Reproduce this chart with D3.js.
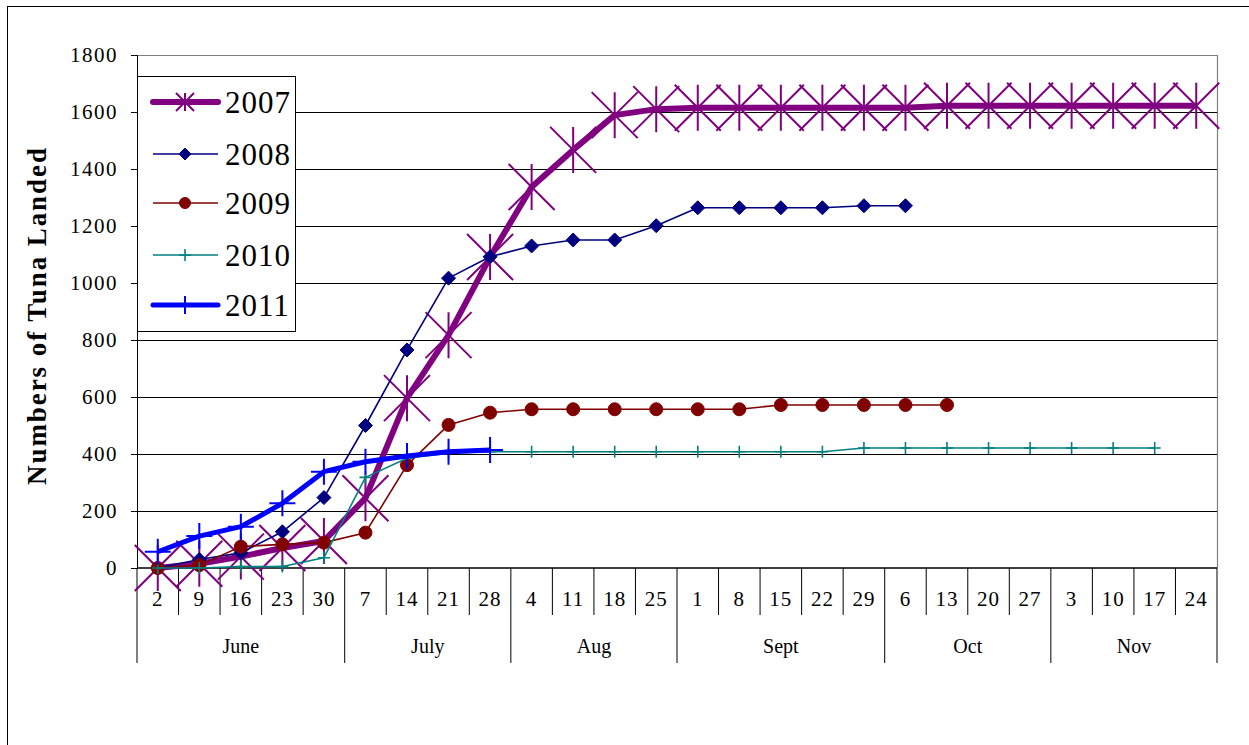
<!DOCTYPE html>
<html>
<head>
<meta charset="utf-8">
<script src="https://cdn.jsdelivr.net/npm/d3@7"></script>
<style>
  body { margin: 0; background: #fff; }
  svg text { font-family: "Liberation Serif", "Times New Roman", serif; fill: #000; }
</style>
</head>
<body>
<svg id="chart" width="1249" height="745"></svg>
<script>
// month groups and their week-day labels
const months = ["June", "July", "Aug", "Sept", "Oct", "Nov"];
const monthDays = [
    [2, 9, 16, 23, 30],
    [7, 14, 21, 28],
    [4, 11, 18, 25],
    [1, 8, 15, 22, 29],
    [6, 13, 20, 27],
    [3, 10, 17, 24]
];
const yTicks = [0, 200, 400, 600, 800, 1000, 1200, 1400, 1600, 1800];

// cumulative tuna landed, one value per week (null = no data)
const s2007 = [0, 15, 40, 70, 95, 245, 596, 817, 1091, 1337, 1467, 1589, 1610, 1615, 1615, 1615, 1615, 1615, 1615, 1622, 1622, 1622, 1622, 1622, 1622, 1622];
const s2008 = [0, 30, 53, 127, 247, 500, 765, 1017, 1092, 1130, 1151, 1151, 1201, 1264, 1264, 1264, 1264, 1271, 1271, null, null, null, null, null, null, null];
const s2009 = [0, 10, 75, 83, 89, 124, 361, 502, 545, 557, 557, 557, 557, 557, 557, 572, 572, 572, 572, 572, null, null, null, null, null, null];
const s2010 = [0, 0, 5, 5, 36, 318, 385, 403, 408, 408, 408, 408, 408, 408, 408, 408, 408, 421, 421, 421, 421, 421, 421, 421, 421, null];
const s2011 = [57, 112, 145, 227, 338, 373, 393, 408, 414, null, null, null, null, null, null, null, null, null, null, null, null, null, null, null, null, null];

const seriesNames = ["2007", "2008", "2009", "2010", "2011"];
const seriesValues = [s2007, s2008, s2009, s2010, s2011];

const styles = {
    "2007": { color: "#800080", width: 6, marker: "star", size: 23, lsize: 9, mw: 2 },
    "2008": { color: "#000080", width: 1.6, marker: "diamond", size: 7, lsize: 6, mw: 1 },
    "2009": { color: "#800000", width: 1.6, marker: "circle", size: 6.5, lsize: 5.5, mw: 1 },
    "2010": { color: "#008080", width: 1.6, marker: "plus", size: 6, lsize: 6, mw: 1.6 },
    "2011": { color: "#0000FF", width: 5, marker: "plus", size: 13, lsize: 9, mw: 2 }
};

const days = monthDays.flat();
const svg = d3.select("#chart");

const plotLeft = 137, plotRight = 1217, plotTop = 55, plotBottom = 568;

const x = d3.scaleBand().domain(d3.range(days.length)).range([plotLeft, plotRight]).padding(0);
const cx = i => x(i) + x.bandwidth() / 2;
const y = d3.scaleLinear().domain([0, 1800]).range([plotBottom, plotTop]);

// outer frame
svg.append("rect").attr("x", 7.5).attr("y", 6.5).attr("width", 1260).attr("height", 760)
    .attr("fill", "none").attr("stroke", "#000").attr("stroke-width", 1);

// plot area border (top/right)
svg.append("path")
    .attr("d", `M${plotLeft},${plotTop + 0.5} H${plotRight + 0.5} V${plotBottom}`)
    .attr("fill", "none").attr("stroke", "#808080").attr("stroke-width", 1.2);

// gridlines
svg.append("g")
    .attr("transform", `translate(${plotLeft},0)`)
    .call(d3.axisLeft(y).tickValues(yTicks.slice(1, -1)).tickSize(-(plotRight - plotLeft)).tickFormat(""))
    .call(g => g.select(".domain").remove())
    .selectAll("line").attr("stroke", "#000").attr("stroke-width", 1);

// y axis
svg.append("g")
    .attr("transform", `translate(${plotLeft},0)`)
    .call(d3.axisLeft(y).tickValues(yTicks).tickSize(6).tickPadding(13).tickFormat(d3.format("d")))
    .call(g => g.select(".domain").attr("stroke", "#000"))
    .call(g => g.selectAll("line").attr("stroke", "#000"))
    .selectAll("text")
    .style("font-size", "21px").style("letter-spacing", "1.5px");

// y axis title
svg.append("text")
    .attr("transform", `translate(46,${(plotTop + plotBottom) / 2 + 5}) rotate(-90)`)
    .attr("text-anchor", "middle")
    .attr("textLength", 337).attr("lengthAdjust", "spacing")
    .style("font-size", "27px").style("font-weight", "bold")
    .text("Numbers of Tuna Landed");

// x axis line
svg.append("line").attr("x1", plotLeft).attr("x2", plotRight).attr("y1", plotBottom).attr("y2", plotBottom)
    .attr("stroke", "#000").attr("stroke-width", 1.5);

// day separators and labels
const xAxis = svg.append("g");
let idx = 0;
monthDays.forEach((md, mi) => {
    const start = idx;
    md.forEach((d, k) => {
        const i = idx;
        if (k > 0) {
            xAxis.append("line").attr("x1", x(i)).attr("x2", x(i)).attr("y1", plotBottom).attr("y2", 615)
                .attr("stroke", "#000").attr("stroke-width", 1);
        }
        xAxis.append("text").attr("x", cx(i)).attr("y", 606).attr("text-anchor", "middle")
            .style("font-size", "21px").style("letter-spacing", "1px").text(d);
        idx++;
    });
    // month boundary
    xAxis.append("line").attr("x1", x(start)).attr("x2", x(start)).attr("y1", plotBottom).attr("y2", 663)
        .attr("stroke", "#000").attr("stroke-width", 1);
    const mid = (x(start) + x(idx - 1) + x.bandwidth()) / 2;
    xAxis.append("text").attr("x", mid).attr("y", 653).attr("text-anchor", "middle")
        .style("font-size", "20px").text(months[mi]);
});
xAxis.append("line").attr("x1", plotRight).attr("x2", plotRight).attr("y1", plotBottom).attr("y2", 663)
    .attr("stroke", "#000").attr("stroke-width", 1);

function markerPath(type, r) {
    if (type === "star") return `M${-r},${-r}L${r},${r}M${-r},${r}L${r},${-r}M0,${-r}L0,${r}`;
    if (type === "plus") return `M${-r},0L${r},0M0,${-r}L0,${r}`;
    if (type === "diamond") return `M0,${-r}L${r},0L0,${r}L${-r},0Z`;
    return d3.symbol(d3.symbolCircle, Math.PI * r * r)();
}

const line = d3.line()
    .defined(d => d != null)
    .x((d, i) => cx(i))
    .y(d => y(d));

seriesNames.forEach((name, si) => {
    const st = styles[name];
    const vals = seriesValues[si];
    const g = svg.append("g");
    g.append("path").datum(vals).attr("d", line)
        .attr("fill", "none").attr("stroke", st.color).attr("stroke-width", st.width)
        .attr("stroke-linejoin", "round");
    const pts = vals.map((v, i) => ({ v, i })).filter(p => p.v != null);
    g.selectAll("path.m").data(pts).join("path").attr("class", "m")
        .attr("transform", p => `translate(${cx(p.i)},${y(p.v)})`)
        .attr("d", markerPath(st.marker, st.size))
        .attr("fill", (st.marker === "diamond" || st.marker === "circle") ? st.color : "none")
        .attr("stroke", st.color).attr("stroke-width", st.mw);
});

// legend
const legend = svg.append("g");
legend.append("rect").attr("x", 137.5).attr("y", 76.5).attr("width", 158).attr("height", 255)
    .attr("fill", "#fff").attr("stroke", "#000").attr("stroke-width", 1);
const legendY = [102, 154, 203, 255, 305];
seriesNames.forEach((name, si) => {
    const st = styles[name];
    const ly = legendY[si];
    legend.append("line").attr("x1", 153).attr("x2", 218).attr("y1", ly).attr("y2", ly)
        .attr("stroke", st.color).attr("stroke-width", st.width).attr("stroke-linecap", st.width > 3 ? "round" : "butt");
    legend.append("path").attr("transform", `translate(185,${ly})`)
        .attr("d", markerPath(st.marker, st.lsize))
        .attr("fill", (st.marker === "diamond" || st.marker === "circle") ? st.color : "none")
        .attr("stroke", st.color).attr("stroke-width", st.mw);
    legend.append("text").attr("x", 225).attr("y", ly + 11)
        .style("font-size", "31px").style("letter-spacing", "1px").text(name);
});
</script>
</body>
</html>
